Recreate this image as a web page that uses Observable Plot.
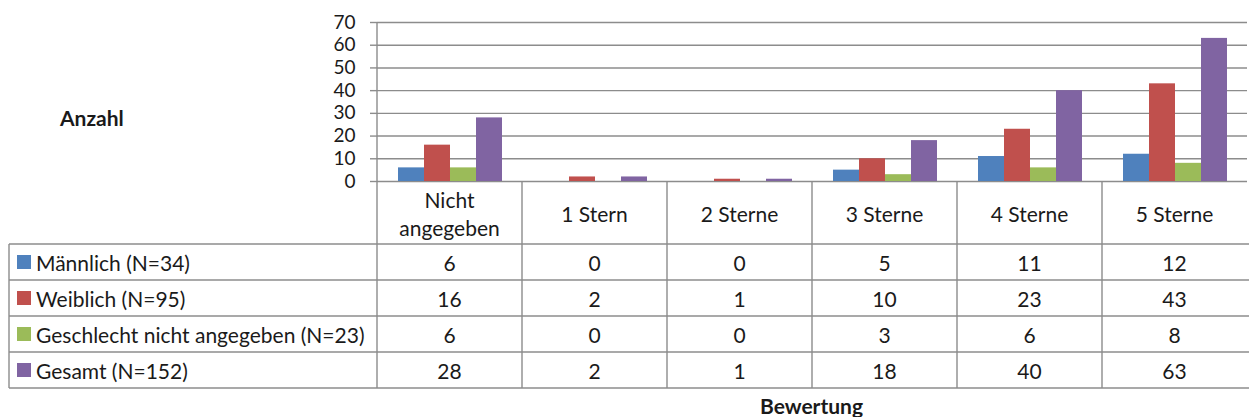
<!DOCTYPE html>
<html><head><meta charset="utf-8">
<script src="https://cdn.jsdelivr.net/npm/d3@7"></script>
<script src="https://cdn.jsdelivr.net/npm/@observablehq/plot@0.6"></script>
<style>body{margin:0;background:#fff}</style>
</head><body><div id="chart"></div>
<script>
const categories = ["Nicht angegeben", "1 Stern", "2 Sterne", "3 Sterne", "4 Sterne", "5 Sterne"];
const categoryLabels = [["Nicht", "angegeben"], ["1 Stern"], ["2 Sterne"], ["3 Sterne"], ["4 Sterne"], ["5 Sterne"]];
const series = ["Männlich (N=34)", "Weiblich (N=95)", "Geschlecht nicht angegeben (N=23)", "Gesamt (N=152)"];
const maennlich = [6, 0, 0, 5, 11, 12];
const weiblich = [16, 2, 1, 10, 23, 43];
const ohneAngabe = [6, 0, 0, 3, 6, 8];
const gesamt = [28, 2, 1, 18, 40, 63];
const colors = ["#4F81BD", "#C0504D", "#9BBB59", "#8064A2"];
const yTicks = [0, 10, 20, 30, 40, 50, 60, 70];
const yTitle = "Anzahl";
const xTitle = "Bewertung";

const valuesBySeries = [maennlich, weiblich, ohneAngabe, gesamt];
const data = categories.flatMap((c, i) => series.map((s, j) => ({category: c, series: s, value: valuesBySeries[j][i]})));

const W = 1249, H = 417, mL = 374, mT = 22, mB = 236;
const FONT = "Lato, 'Open Sans', sans-serif";
const FS = 21;
const LINE = "#8c8c8c";
const TXT = "#1a1a1a";

const plot = Plot.plot({
  width: W, height: H,
  marginLeft: mL, marginRight: 0, marginTop: mT, marginBottom: mB,
  style: {fontFamily: FONT, fontSize: FS + "px", color: TXT, background: "#fff"},
  fx: {domain: categories, padding: 0, axis: null, label: null},
  x: {domain: series, paddingInner: 0, paddingOuter: 0.73, axis: null},
  y: {domain: [0, 70], label: null},
  color: {domain: series, range: colors},
  marks: [
    Plot.gridY(yTicks, {stroke: LINE, strokeOpacity: 1, strokeWidth: 1.4}),
    Plot.barY(data, {fx: "category", x: "series", y: "value", fill: "series", inset: 0}),
    Plot.axisY(yTicks, {tickSize: 7, tickPadding: 15, label: null, stroke: LINE, strokeWidth: 1.4, fill: TXT, fontSize: 19})
  ]
});

document.getElementById("chart").appendChild(plot);

const svg = d3.select(plot);
const fx = plot.scale("fx");
const y = plot.scale("y");
const bw = fx.bandwidth;
const y0 = y.apply(0);
const headerBottom = y0 + 63;
const rowH = 36;
const tableLeft = 9;
const tableBottom = headerBottom + rowH * series.length;

const g = svg.append("g").attr("font-family", FONT).attr("font-size", FS).attr("fill", TXT).attr("text-anchor", "start");
const lines = g.append("g").attr("stroke", LINE).attr("stroke-width", 1.4);
for (let k = 0; k <= series.length; k++) {
  const yy = headerBottom + k * rowH;
  lines.append("line").attr("x1", tableLeft).attr("x2", W).attr("y1", yy).attr("y2", yy);
}
categories.forEach((c, i) => {
  const xx = fx.apply(c);
  lines.append("line").attr("x1", xx).attr("x2", xx).attr("y1", i === 0 ? mT : y0).attr("y2", tableBottom);
});
lines.append("line").attr("x1", tableLeft).attr("x2", tableLeft).attr("y1", headerBottom).attr("y2", tableBottom);

categories.forEach((c, i) => {
  const cx = fx.apply(c) + bw / 2;
  const cy = (y0 + headerBottom) / 2;
  const parts = categoryLabels[i];
  const lh = 28;
  const t = g.append("text").attr("text-anchor", "middle").attr("dominant-baseline", "central");
  parts.forEach((p, k) => {
    t.append("tspan").attr("x", cx).attr("y", cy + (k - (parts.length - 1) / 2) * lh).text(p);
  });
});

series.forEach((s, j) => {
  const cy = headerBottom + j * rowH + rowH / 2;
  g.append("rect").attr("x", 17).attr("y", cy - 7).attr("width", 14).attr("height", 14).attr("fill", colors[j]);
  g.append("text").attr("x", 36).attr("y", cy).attr("text-anchor", "start").attr("dominant-baseline", "central").text(s);
  categories.forEach((c, i) => {
    g.append("text").attr("x", fx.apply(c) + bw / 2).attr("y", cy).attr("text-anchor", "middle")
      .attr("dominant-baseline", "central").text(valuesBySeries[j][i]);
  });
});

g.append("text").attr("x", 60).attr("y", 117).attr("font-weight", "bold").attr("text-anchor", "start")
  .attr("dominant-baseline", "central").text(yTitle);
g.append("text").attr("x", (mL + W) / 2).attr("y", 405).attr("font-weight", "bold").attr("text-anchor", "middle")
  .attr("dominant-baseline", "central").text(xTitle);
</script>
</body></html>
